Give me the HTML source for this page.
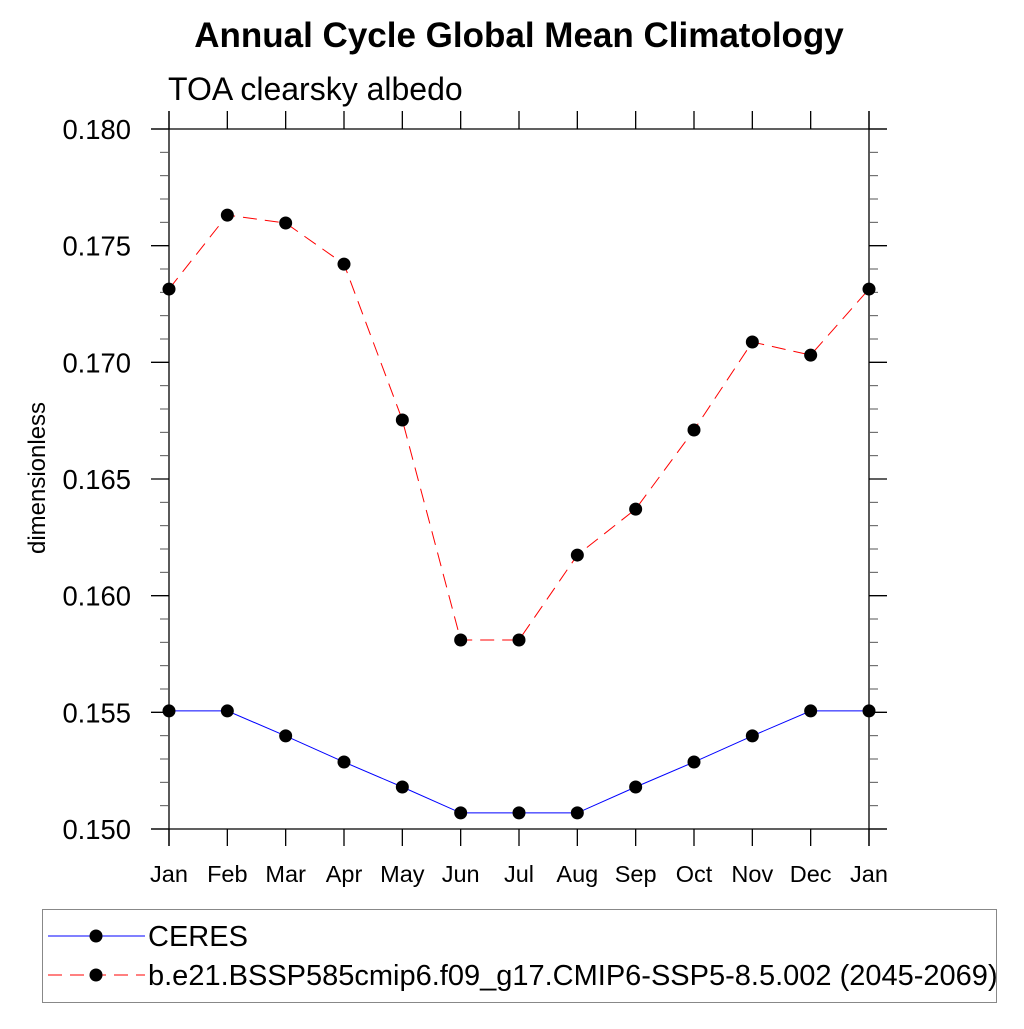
<!DOCTYPE html>
<html><head><meta charset="utf-8"><style>
body{margin:0;background:#fff;width:1024px;height:1024px;overflow:hidden}
svg text{font-family:"Liberation Sans",Arial,sans-serif}
</style></head><body>
<svg id="chart" width="1024" height="1024" xmlns="http://www.w3.org/2000/svg">
<text x="519" y="47" text-anchor="middle" font-size="35" font-weight="bold">Annual Cycle Global Mean Climatology</text>
<text x="168" y="100" font-size="32">TOA clearsky albedo</text>
<text transform="translate(45,478) rotate(-90)" text-anchor="middle" font-size="24">dimensionless</text>
<g id="axes"></g>
<g id="series"></g>
<rect x="42.5" y="909.5" width="954" height="93" fill="none" stroke="#888" stroke-width="1"/>
<g>
<line x1="48" y1="936" x2="145" y2="936" stroke="#0000ff" stroke-width="1"/>
<circle cx="96" cy="936" r="6.5" fill="#000"/>
<text x="148" y="946" font-size="29">CERES</text></g>
<g>
<line x1="48" y1="975" x2="145" y2="975" stroke="#ff0000" stroke-width="1" stroke-dasharray="14,8"/>
<circle cx="96" cy="975" r="6.5" fill="#000"/>
<text x="148" y="985" font-size="29">b.e21.BSSP585cmip6.f09_g17.CMIP6-SSP5-8.5.002 (2045-2069)</text></g>
</svg>
<script>
const months=["Jan","Feb","Mar","Apr","May","Jun","Jul","Aug","Sep","Oct","Nov","Dec","Jan"];
const ceres=[0.15506,0.15506,0.15399,0.15287,0.1518,0.15069,0.15069,0.15069,0.1518,0.15287,0.15399,0.15506,0.15506];
const model=[0.17314,0.17631,0.17597,0.17421,0.16753,0.1581,0.1581,0.16174,0.16371,0.1671,0.17087,0.17031,0.17314];
const yTicks=[0.150,0.155,0.160,0.165,0.170,0.175,0.180];
const NS="http://www.w3.org/2000/svg";
const X0=169,X1=869,Y0=829,Y1=129,YMIN=0.150,YMAX=0.180;
const xs=i=>X0+(X1-X0)*i/(months.length-1);
const ys=v=>Y0-(v-YMIN)/(YMAX-YMIN)*(Y0-Y1);
function mk(tag,attrs,parent){const e=document.createElementNS(NS,tag);for(const k in attrs)e.setAttribute(k,attrs[k]);parent.appendChild(e);return e;}
const ax=document.getElementById('axes');
const st={stroke:"#000","stroke-width":1.3};
const st2={stroke:"#555","stroke-width":1};
mk('line',Object.assign({x1:151,y1:Y1,x2:887,y2:Y1},st),ax);
mk('line',Object.assign({x1:151,y1:Y0,x2:887,y2:Y0},st),ax);
mk('line',Object.assign({x1:X0,y1:111,x2:X0,y2:846},st),ax);
mk('line',Object.assign({x1:X1,y1:111,x2:X1,y2:846},st),ax);
for(let i=0;i<months.length;i++){const x=xs(i);
 mk('line',Object.assign({x1:x,y1:111,x2:x,y2:Y1},st),ax);
 mk('line',Object.assign({x1:x,y1:Y0,x2:x,y2:846},st),ax);
 const t=mk('text',{x:x,y:882,"text-anchor":"middle","font-size":23.5},ax);t.textContent=months[i];
 
 
}
for(let v=0;v<=30;v++){const y=ys(YMIN+v*0.001);const major=v%5===0;
 mk('line',Object.assign({x1:major?151:160,y1:y,x2:X0,y2:y},major?st:st2),ax);
 mk('line',Object.assign({x1:X1,y1:y,x2:major?887:878,y2:y},major?st:st2),ax);}
yTicks.forEach(v=>{const t=mk('text',{x:131,y:ys(v)+10,"text-anchor":"end","font-size":27.4},ax);t.textContent=v.toFixed(3);
 
 });
const sg=document.getElementById('series');
function draw(data,color,dash,name){
 const p=mk('polyline',{points:data.map((v,i)=>xs(i)+","+ys(v)).join(" "),fill:"none",stroke:color,"stroke-width":1,"stroke-dasharray":dash},sg);
 
 
 data.forEach((v,i)=>{const c=mk('circle',{cx:xs(i),cy:ys(v),r:6.5,fill:"#000"},sg);
  
  });
}
draw(ceres,"#0000ff","none","ceres");
draw(model,"#ff0000","14,8","model");
</script>
</body></html>
